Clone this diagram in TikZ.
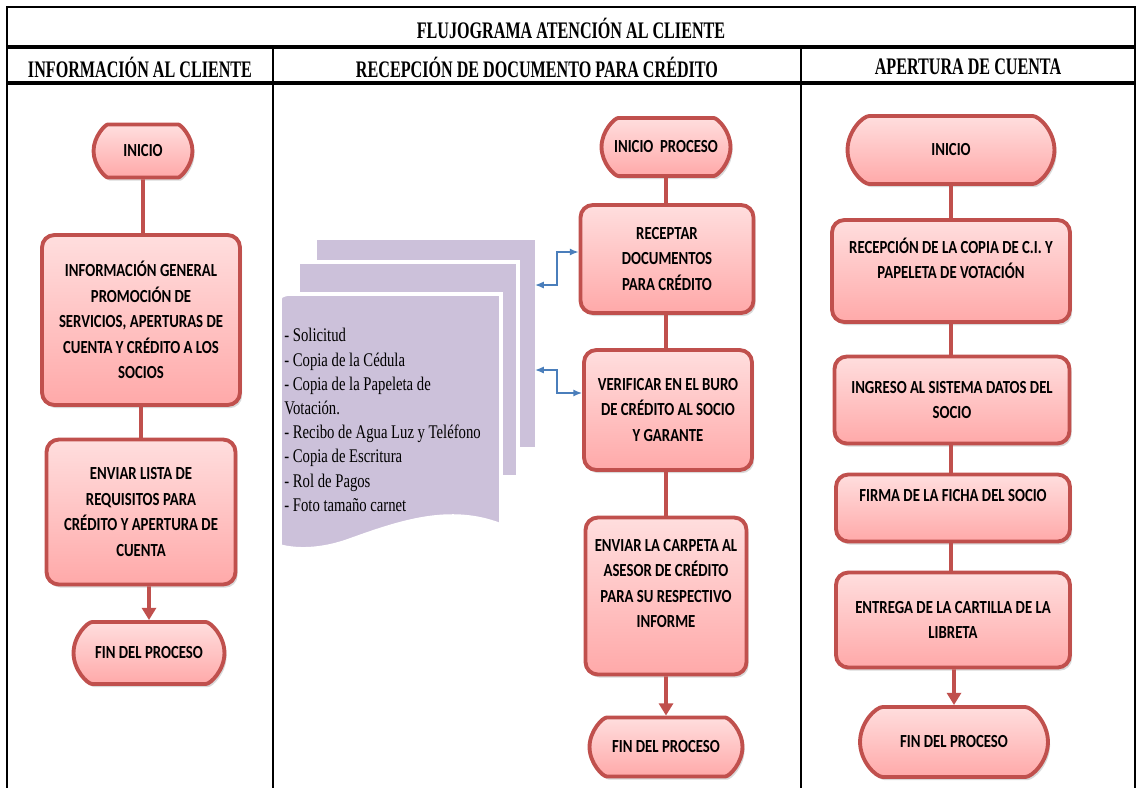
\documentclass[tikz,border=0pt]{standalone}
\usepackage{fontspec}
\usetikzlibrary{shapes.misc,shadows,arrows.meta}
\newfontfamily\headfont[FakeStretch=0.68]{Liberation Serif}
\newfontfamily\listfont[FakeStretch=0.76]{Liberation Serif}
\newfontfamily\boxfont[FakeStretch=0.8]{Carlito}

\definecolor{boxred}{HTML}{C0504D}
\definecolor{pinktop}{HTML}{FFDEDE}
\definecolor{pinkbot}{HTML}{FFA9A9}
\definecolor{sheet}{HTML}{CCC1DA}
\definecolor{linkblue}{HTML}{4A7EBB}

\tikzset{
  proc/.style={draw=boxred, line width=2.2pt, rounded corners=7pt,
    top color=pinktop, bottom color=pinkbot,
    drop shadow={opacity=0.3, shadow xshift=1.2pt, shadow yshift=-1.8pt},
    font=\boxfont\fontsize{10.5}{14.5}\selectfont\bfseries, align=center, inner sep=2pt},
  term/.style={proc, rounded rectangle},
  link/.style={draw=boxred, line width=2.2pt},
  arr/.style={link, -{Triangle[length=7pt,width=8pt]}},
  docarr/.style={draw=linkblue, line width=0.8pt, {Latex[length=5pt,width=4pt]}-{Latex[length=5pt,width=4pt]}},
  head/.style={font=\headfont\bfseries\fontsize{13.5}{15}\selectfont}
}

\begin{document}
\begin{tikzpicture}[x=0.02cm, y=-0.02cm]
    \useasboundingbox (0,0) rectangle (1137,788);

    % table frame
    \draw[line width=0.8pt] (7,788) -- (7,7) -- (1135,7) -- (1135,788);
    \draw[line width=1.8pt] (7,47) -- (1135,47) (7,83) -- (1135,83);
    \draw[line width=1pt] (273,47) -- (273,788) (801,47) -- (801,788);
    \node[head] (title) at (571,28) {FLUJOGRAMA ATENCIÓN AL CLIENTE};
    \node[head] (h1) at (140,67) {INFORMACIÓN AL CLIENTE};
    \node[head] (h2) at (537,67) {RECEPCIÓN DE DOCUMENTO PARA CRÉDITO};
    \node[head] (h3) at (968,67) {APERTURA DE CUENTA};

    % informacion al cliente
    \node[term, minimum width=2.12cm, minimum height=1.06cm] (ini1) at (143,151) {INICIO};
    \node[proc, minimum width=3.96cm, minimum height=3.4cm] (info) at (141,320)
        {INFORMACIÓN GENERAL\\PROMOCIÓN DE\\SERVICIOS, APERTURAS DE\\CUENTA Y CRÉDITO A LOS\\SOCIOS};
    \node[proc, minimum width=3.78cm, minimum height=2.9cm] (lista) at (141,512)
        {ENVIAR LISTA DE\\REQUISITOS PARA\\CRÉDITO Y APERTURA DE\\CUENTA};
    \node[term, minimum width=3.16cm, minimum height=1.24cm] (fin1) at (149,653) {FIN DEL PROCESO};
    \draw[link] (ini1) -- (ini1 |- info.north);
    \draw[link] (info) -- (lista);
    \draw[arr] (fin1 |- lista.south) -- (fin1);

    % hojas de requisitos
    \fill[sheet] (317,240) rectangle (535,447);
    \filldraw[fill=sheet, draw=white, line width=2pt] (298,262) rectangle (518,477);
    \filldraw[fill=sheet, draw=white, line width=2pt] (280,302) .. controls (280,296) .. (288,294) -- (501,294) -- (501,525)
        .. controls (450,505) and (400,522) .. (350,540) .. controls (320,551) and (295,550) .. (280,546) -- cycle;
    \node[anchor=north west, align=left, inner sep=0pt, font=\listfont\fontsize{11}{13.8}\selectfont] (reqs) at (284,328)
        {- Solicitud\\- Copia de la Cédula\\- Copia de la Papeleta de\\Votación.\\- Recibo de Agua Luz y Teléfono\\- Copia de Escritura\\- Rol de Pagos\\- Foto tamaño carnet};
    \coordinate (pageA) at (535,285);
    \coordinate (pageB) at (535,370);

    % recepcion de documento
    \node[term, minimum width=2.72cm, minimum height=1.16cm] (ini2) at (666,147) {INICIO\ \ PROCESO};
    \node[proc, minimum width=3.46cm, minimum height=2.16cm] (recep) at (667,259)
        {RECEPTAR\\DOCUMENTOS\\PARA CRÉDITO};
    \node[proc, minimum width=3.36cm, minimum height=2.4cm] (verif) at (668,410)
        {VERIFICAR EN EL BURO\\DE CRÉDITO AL SOCIO\\Y GARANTE};
    \node[proc, minimum width=3.22cm, minimum height=3.14cm] (carp) at (666,596)
        {ENVIAR LA CARPETA AL\\ASESOR DE CRÉDITO\\PARA SU RESPECTIVO\\INFORME\\ \mbox{}};
    \node[term, minimum width=3.2cm, minimum height=1.18cm] (fin2) at (666,747) {FIN DEL PROCESO};
    \draw[link] (ini2) -- (ini2 |- recep.north);
    \draw[link] (ini2 |- recep.south) -- (ini2 |- verif.north);
    \draw[link] (ini2 |- verif.south) -- (carp);
    \draw[arr] (carp) -- (fin2);
    \draw[docarr] (pageA) -- ++(22,0) |- ([yshift=0.14cm]recep.west);
    \draw[docarr] (pageB) -- ++(22,0) |- ([yshift=0.34cm]verif.west);

    % apertura de cuenta
    \node[term, minimum width=4.28cm, minimum height=1.36cm] (ini3) at (951,150) {INICIO};
    \node[proc, minimum width=4.76cm, minimum height=2.04cm] (copia) at (951,271)
        {RECEPCIÓN DE LA COPIA DE C.I. Y\\PAPELETA DE VOTACIÓN\\ \mbox{}};
    \node[proc, minimum width=4.7cm, minimum height=1.74cm] (ingreso) at (952,400)
        {INGRESO AL SISTEMA DATOS DEL\\SOCIO};
    \node[proc, minimum width=4.68cm, minimum height=1.34cm] (firma) at (953,508)
        {FIRMA DE LA FICHA DEL SOCIO\\ \mbox{}};
    \node[proc, minimum width=4.68cm, minimum height=1.9cm] (entrega) at (953,620)
        {ENTREGA DE LA CARTILLA DE LA\\LIBRETA};
    \node[term, minimum width=3.9cm, minimum height=1.4cm] (fin3) at (954,742) {FIN DEL PROCESO};
    \draw[link] (ini3) -- (ini3 |- copia.north);
    \draw[link] (ini3 |- copia.south) -- (ini3 |- ingreso.north);
    \draw[link] (ini3 |- ingreso.south) -- (ini3 |- firma.north);
    \draw[link] (ini3 |- firma.south) -- (ini3 |- entrega.north);
    \draw[arr] (fin3 |- entrega.south) -- (fin3);
\end{tikzpicture}
\end{document}
